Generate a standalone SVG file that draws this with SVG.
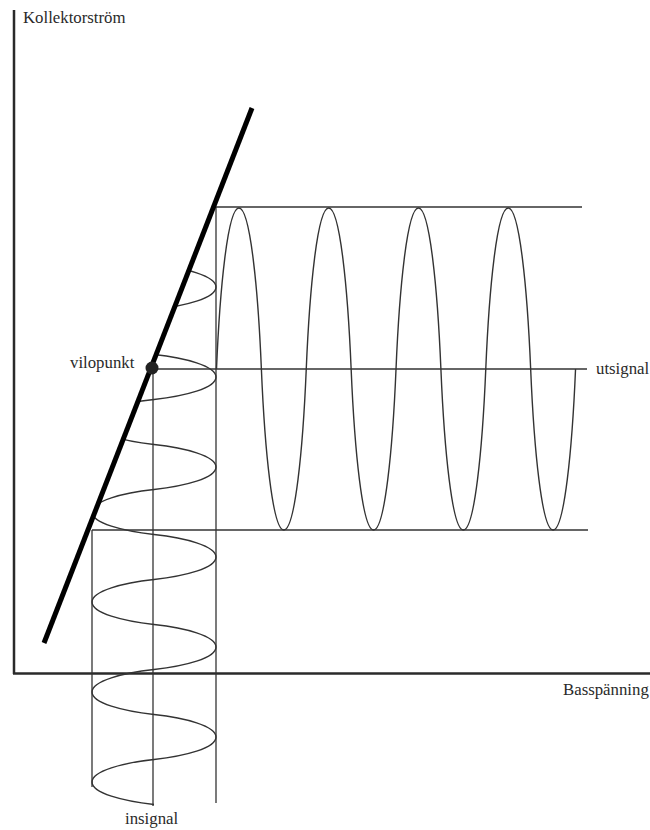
<svg xmlns="http://www.w3.org/2000/svg" width="650" height="830" viewBox="0 0 650 830">
<style>
.axis{stroke:#2a2a2a;stroke-width:2.5;fill:none}
.thin{stroke:#333;stroke-width:1.3;fill:none}
.wave{stroke:#333;stroke-width:1.4;fill:none}
.lbl{font-family:"Liberation Serif","Times New Roman",serif;font-size:16.8px;fill:#2a2a2a}
</style>
<defs>
<clipPath id="rightOfLine"><polygon points="295.5,0 650,0 650,830 -28,830"/></clipPath>
</defs>
<rect width="650" height="830" fill="#fff"/>
<g id="axes">
<line class="axis" x1="14" y1="10" x2="14" y2="674"/>
<line class="axis" x1="13" y1="673.5" x2="650" y2="673.5"/>
<text class="lbl" x="23" y="23">Kollektorström</text>
<text class="lbl" x="563" y="695">Basspänning</text>
</g>
<g id="connectors">
<line class="thin" x1="216" y1="207" x2="582" y2="207"/>
<line class="thin" x1="152" y1="369" x2="587" y2="369"/>
<line class="thin" x1="92" y1="530" x2="588" y2="530"/>
<line class="thin" x1="216" y1="207" x2="216" y2="803"/>
<line class="thin" x1="153" y1="369" x2="153" y2="806"/>
<line class="thin" x1="92" y1="530" x2="92" y2="787"/>
</g>
<g id="insignal">
<path class="wave" clip-path="url(#rightOfLine)" d="M154,264.5
c 31,3.4 62,11.25 62,22.5 c 0,11.25 -31,19.1 -62,22.5
c -31,3.4 -62,11.25 -62,22.5 c 0,11.25 31,19.1 62,22.5
c 31,3.4 62,11.25 62,22.5 c 0,11.25 -31,19.1 -62,22.5
c -31,3.4 -62,11.25 -62,22.5 c 0,11.25 31,19.1 62,22.5
c 31,3.4 62,11.25 62,22.5 c 0,11.25 -31,19.1 -62,22.5
c -31,3.4 -62,11.25 -62,22.5 c 0,11.25 31,19.1 62,22.5
c 31,3.4 62,11.25 62,22.5 c 0,11.25 -31,19.1 -62,22.5
c -31,3.4 -62,11.25 -62,22.5 c 0,11.25 31,19.1 62,22.5
c 31,3.4 62,11.25 62,22.5 c 0,11.25 -31,19.1 -62,22.5
c -31,3.4 -62,11.25 -62,22.5 c 0,11.25 31,19.1 62,22.5
c 31,3.4 62,11.25 62,22.5 c 0,11.25 -31,19.1 -62,22.5
c -31,3.4 -62,11.25 -62,22.5 c 0,11.25 31,19.1 62,22.5"/>
<text class="lbl" x="125" y="824">insignal</text>
</g>
<g id="utsignal">
<path class="wave" d="M216.5,369
c 3.37,-80.5 11.22,-161 22.44,-161 c 11.22,0 19.07,80.5 22.44,161
c 3.37,80.5 11.22,161 22.44,161 c 11.22,0 19.07,-80.5 22.44,-161
c 3.37,-80.5 11.22,-161 22.44,-161 c 11.22,0 19.07,80.5 22.44,161
c 3.37,80.5 11.22,161 22.44,161 c 11.22,0 19.07,-80.5 22.44,-161
c 3.37,-80.5 11.22,-161 22.44,-161 c 11.22,0 19.07,80.5 22.44,161
c 3.37,80.5 11.22,161 22.44,161 c 11.22,0 19.07,-80.5 22.44,-161
c 3.37,-80.5 11.22,-161 22.44,-161 c 11.22,0 19.07,80.5 22.44,161
c 3.37,80.5 11.22,161 22.44,161 c 11.22,0 19.07,-80.5 22.44,-161"/>
<text class="lbl" x="596" y="374">utsignal</text>
</g>
<g id="karakteristik">
<line stroke="#000" stroke-width="5" x1="252" y1="108" x2="44" y2="643"/>
</g>
<g id="vilopunkt">
<circle cx="152" cy="368" r="6.5" fill="#222"/>
<text class="lbl" x="70" y="368">vilopunkt</text>
</g>
</svg>
